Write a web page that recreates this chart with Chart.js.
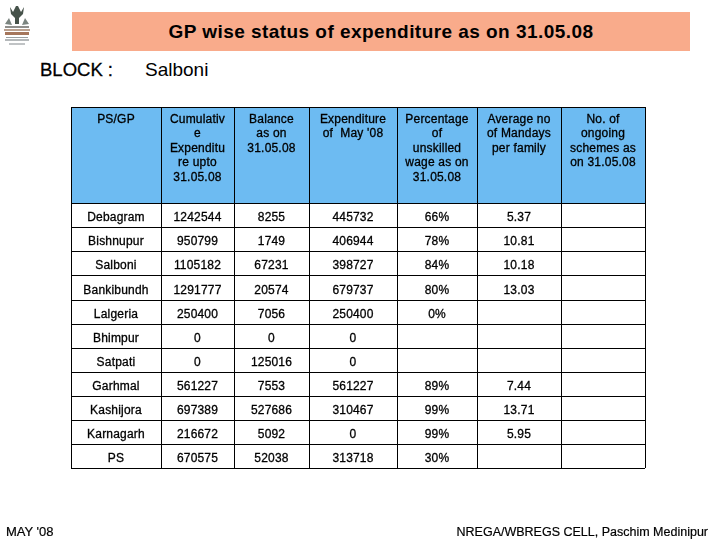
<!DOCTYPE html>
<html>
<head>
<meta charset="utf-8">
<title>GP wise status of expenditure</title>
<script src="https://cdn.jsdelivr.net/npm/chart.js@4"></script>
<style>
body { margin: 0; background: #fff; font-family: "Liberation Sans", Arial, sans-serif; color: #000; }
#page { position: relative; width: 720px; height: 540px; overflow: hidden; }
#page canvas { position: absolute; left: 0; top: 0; }
.txt { position: absolute; white-space: nowrap; }
#titleBar { position: absolute; left: 72px; top: 12px; width: 618px; height: 39px; background: #f9ab8b; }
#title { left: 72px; width: 618px; top: 21px; text-align: center; font-size: 19px; font-weight: bold; letter-spacing: 0.45px; }
#block { left: 40px; top: 59px; font-size: 18.5px; -webkit-text-stroke: 0.3px #000; }
#blockName { left: 145px; top: 59px; font-size: 19px; }
#footLeft { left: 6px; top: 524px; font-size: 13px; -webkit-text-stroke: 0.2px #000; }
#footRight { right: 12px; top: 525px; font-size: 12.5px; -webkit-text-stroke: 0.2px #000; }
#logo { position: absolute; left: 3px; top: 4px; }
</style>
</head>
<body>
<div id="page">
    <div id="titleBar"></div>
    <div id="title" class="txt">GP wise status of expenditure as on 31.05.08</div>
    <svg id="logo" width="28" height="42" viewBox="0 0 28 42">
        <path d="M7 3 L10 8 L13 2 L15 2 L18 8 L21 3 L20 10 L16 14 L16 20 L12 20 L12 14 L8 10 Z" fill="#46524a"/>
        <path d="M2 20 L6 14 L9 21 Z M26 20 L22 14 L19 21 Z" fill="#7b8580"/>
        <rect x="2" y="22" width="24" height="2" fill="#8f8f8c"/>
        <rect x="1" y="25" width="26" height="2" fill="#b9a08f"/>
        <rect x="2" y="28" width="24" height="3" fill="#a5765c"/>
        <rect x="3" y="33" width="22" height="1" fill="#9aa0a2"/>
        <rect x="2" y="35" width="24" height="2" fill="#b4b8ba"/>
        <rect x="6" y="39" width="16" height="2" fill="#c0c3c5"/>
    </svg>
    <div id="block" class="txt">BLOCK :</div>
    <div id="blockName" class="txt">Salboni</div>
    <canvas id="myChart" width="720" height="540"></canvas>
    <div id="footLeft" class="txt">MAY '08</div>
    <div id="footRight" class="txt">NREGA/WBREGS CELL, Paschim Medinipur</div>
</div>

<script>
// table data
const gpNames = ['Debagram', 'Bishnupur', 'Salboni', 'Bankibundh', 'Lalgeria', 'Bhimpur', 'Satpati', 'Garhmal', 'Kashijora', 'Karnagarh', 'PS'];
const cumulative = [1242544, 950799, 1105182, 1291777, 250400, 0, 0, 561227, 697389, 216672, 670575];
const balance = [8255, 1749, 67231, 20574, 7056, 0, 125016, 7553, 527686, 5092, 52038];
const expenditureMay = [445732, 406944, 398727, 679737, 250400, 0, 0, 561227, 310467, 0, 313718];
const unskilledPct = [66, 78, 84, 80, 0, null, null, 89, 99, 99, 30];
const mandays = [5.37, 10.81, 10.18, 13.03, null, null, null, 7.44, 13.71, 5.95, null];
const ongoingSchemes = [null, null, null, null, null, null, null, null, null, null, null];
const headers = [
    ['PS/GP'],
    ['Cumulativ', 'e', 'Expenditu', 're upto', '31.05.08'],
    ['Balance', 'as on', '31.05.08'],
    ['Expenditure', 'of  May \'08'],
    ['Percentage', 'of', 'unskilled', 'wage as on', '31.05.08'],
    ['Average no', 'of Mandays', 'per family'],
    ['No. of', 'ongoing', 'schemes as', 'on 31.05.08']
];

// grid layout, in page pixels
const colEdges = [71, 161, 234, 309, 397, 477, 561, 645];
const rowEdges = [107, 203, 227, 251, 275, 300, 324, 348, 372, 396, 420, 444, 468];

const fmtNum = v => v === null ? '' : String(v);
const fmtPct = v => v === null ? '' : v + '%';
const fmtDec = v => v === null ? '' : v.toFixed(2);

const columns = [
    gpNames,
    cumulative.map(fmtNum),
    balance.map(fmtNum),
    expenditureMay.map(fmtNum),
    unskilledPct.map(fmtPct),
    mandays.map(fmtDec),
    ongoingSchemes.map(fmtNum)
];

const colCenter = i => (colEdges[i] + colEdges[i + 1]) / 2;
const rowCenter = i => (rowEdges[i + 1] + rowEdges[i + 2]) / 2 + 2;

// one invisible point per cell, the plugin writes the text at the point
const cellDatasets = columns.map((col, c) => ({
    type: 'scatter',
    data: col.map((_, r) => ({ x: colCenter(c), y: rowCenter(r) })),
    cellText: col,
    pointRadius: 0
}));

// header text, one point per line
const headerDatasets = headers.map((lines, c) => ({
    type: 'scatter',
    data: lines.map((_, l) => ({ x: colCenter(c), y: 118.5 + l * 14.5 })),
    cellText: lines,
    pointRadius: 0
}));

// blue header band, filled up to the top of the table
const headerBand = {
    type: 'line',
    data: [{ x: colEdges[0], y: rowEdges[1] }, { x: colEdges[7], y: rowEdges[1] }],
    borderWidth: 0,
    pointRadius: 0,
    backgroundColor: '#6dbbf2',
    fill: 'end'
};

const cellText = {
    id: 'cellText',
    afterDatasetsDraw(chart) {
        const g = chart.ctx;
        g.save();
        g.fillStyle = '#000';
        g.strokeStyle = '#000';
        g.lineWidth = 0.3;
        g.font = '12px "Liberation Sans", Arial, sans-serif';
        g.letterSpacing = '0.2px';
        g.textAlign = 'center';
        g.textBaseline = 'middle';
        chart.data.datasets.forEach((ds, i) => {
            if (!ds.cellText) return;
            chart.getDatasetMeta(i).data.forEach((pt, n) => {
                if (ds.cellText[n] === '') return;
                g.fillText(ds.cellText[n], pt.x, pt.y + 1);
                g.strokeText(ds.cellText[n], pt.x, pt.y + 1);
            });
        });
        g.restore();
    }
};

const gridOptions = { color: '#000', lineWidth: 1, drawTicks: false, z: 1 };

new Chart(document.getElementById('myChart').getContext('2d'), {
    type: 'scatter',
    data: { datasets: [headerBand, ...headerDatasets, ...cellDatasets] },
    plugins: [cellText],
    options: {
        responsive: false,
        animation: false,
        devicePixelRatio: 1,
        layout: { padding: { left: colEdges[0], right: 720 - colEdges[7], top: rowEdges[0], bottom: 540 - rowEdges[12] } },
        plugins: { legend: { display: false }, tooltip: { enabled: false } },
        scales: {
            x: {
                type: 'linear',
                min: colEdges[0],
                max: colEdges[7],
                grid: gridOptions,
                border: { display: false },
                ticks: { display: false, autoSkip: false },
                afterBuildTicks: axis => { axis.ticks = colEdges.map(value => ({ value })); }
            },
            y: {
                type: 'linear',
                reverse: true,
                min: rowEdges[0],
                max: rowEdges[12],
                grid: gridOptions,
                border: { display: false },
                ticks: { display: false, autoSkip: false },
                afterBuildTicks: axis => { axis.ticks = rowEdges.map(value => ({ value })); }
            }
        }
    }
});
</script>
</body>
</html>
